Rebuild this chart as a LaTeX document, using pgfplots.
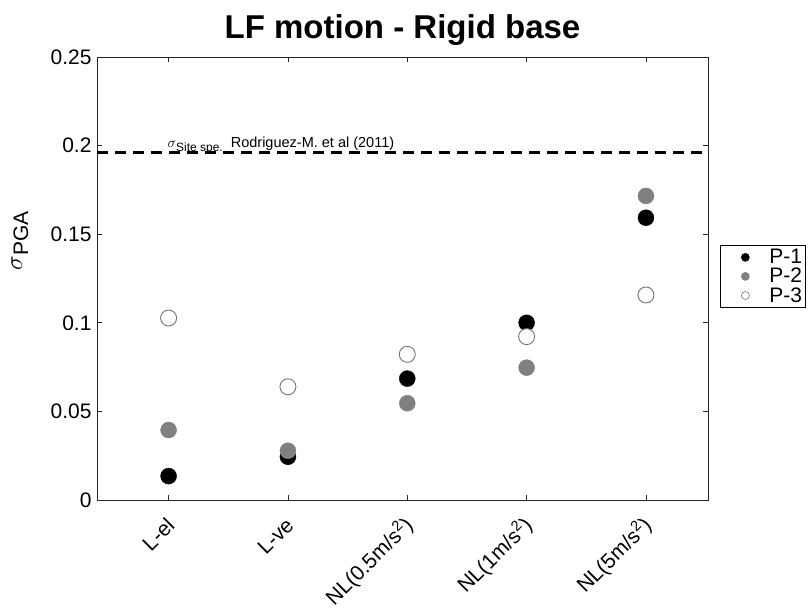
\documentclass[border=0pt]{standalone}
\usepackage{pgfplots}
\pgfplotsset{compat=1.18}
\usepackage{fontspec}
\setmainfont{Liberation Sans}

\definecolor{axgray}{gray}{0.15}
\definecolor{ptgray}{gray}{0.5}
\definecolor{rimgray}{gray}{0.45}

% sigma of PGA for each model, one table per point set
\pgfplotstableread{
x  s
0  0.0135
1  0.0244
2  0.0685
3  0.1000
4  0.1593
}\Pone
\pgfplotstableread{
x  s
0  0.0395
1  0.0278
2  0.0546
3  0.0747
4  0.1716
}\Ptwo
\pgfplotstableread{
x  s
0  0.1027
1  0.0639
2  0.0822
3  0.0922
4  0.1157
}\Pthree

\begin{document}
\begin{tikzpicture}[x=1bp,y=1bp]
\begin{axis}[
  scale only axis,
  width=611bp, height=443bp,
  xmin=-0.6, xmax=4.52,
  ymin=0, ymax=0.25,
  axis line style={axgray, line width=0.8bp},
  every tick/.style={axgray, line width=0.8bp},
  tick align=inside,
  major tick length=5bp,
  xtick={0,1,2,3,4},
  xticklabels={L-el, L-ve, NL(0.5m/s\textsuperscript{2}), NL(1m/s\textsuperscript{2}), NL(5m/s\textsuperscript{2})},
  ytick={0,0.05,0.1,0.15,0.2,0.25},
  yticklabels={0,0.05,0.1,0.15,0.2,0.25},
  ticklabel style={font=\fontsize{21bp}{24bp}\selectfont},
  x tick label style={rotate=45, anchor=east, inner sep=0pt, xshift=-14bp, yshift=-17bp},
  y tick label style={xshift=-2bp},
  /pgf/number format/assume math mode=true,
  title={\bfseries LF motion - Rigid base},
  title style={font=\fontsize{33bp}{36bp}\selectfont, at={(0.5,1)}, anchor=base, yshift=13bp, inner sep=0pt},
  ylabel={\fontsize{24bp}{26bp}\selectfont$\sigma$\raisebox{-6bp}{\fontsize{21bp}{22bp}\selectfont PGA}},
  ylabel style={at={(axis description cs:-0.126,0.585)}, anchor=center, inner sep=0pt},
  legend style={at={(1.0196,0.5756)}, anchor=north west, draw=black, line width=0.8bp,
    font=\fontsize{21bp}{22bp}\selectfont, inner xsep=1bp, inner ysep=2bp,
    row sep=-1bp},
  legend cell align=left,
  legend image code/.code={%
    \path[draw=none, fill=none] (0bp,0bp) -- (46bp,0bp);
    \draw[#1, mark size=4bp, line width=0.6bp] plot coordinates {(24bp,0bp)};},
]
\addplot[only marks, mark=*, mark size=8bp, draw=black, fill=black] table[x=x, y=s] {\Pone};
\addlegendentry{P-1}
\addplot[only marks, mark=*, mark size=8bp, draw=ptgray, fill=ptgray] table[x=x, y=s] {\Ptwo};
\addlegendentry{P-2}
\addplot[only marks, mark=*, mark size=8bp, draw=rimgray, fill=white, line width=0.9bp] table[x=x, y=s] {\Pthree};
\addlegendentry{P-3}
% site-specific reference level
\addplot[black, line width=2.4bp, dash pattern=on 11bp off 7bp, forget plot] coordinates {(-0.6,0.196) (4.52,0.196)};
\node[anchor=base west, inner sep=0pt, font=\fontsize{14.5bp}{16bp}\selectfont]
  at (axis cs:-0.01,0.1988) {$\sigma$\raisebox{-3.5bp}{\fontsize{12bp}{13bp}\selectfont Site spe.}\ \ Rodriguez-M. et al (2011)};
\end{axis}
\pgfresetboundingbox
\path (-97bp,-116bp) rectangle (714bp,500bp);
\end{tikzpicture}
\end{document}
